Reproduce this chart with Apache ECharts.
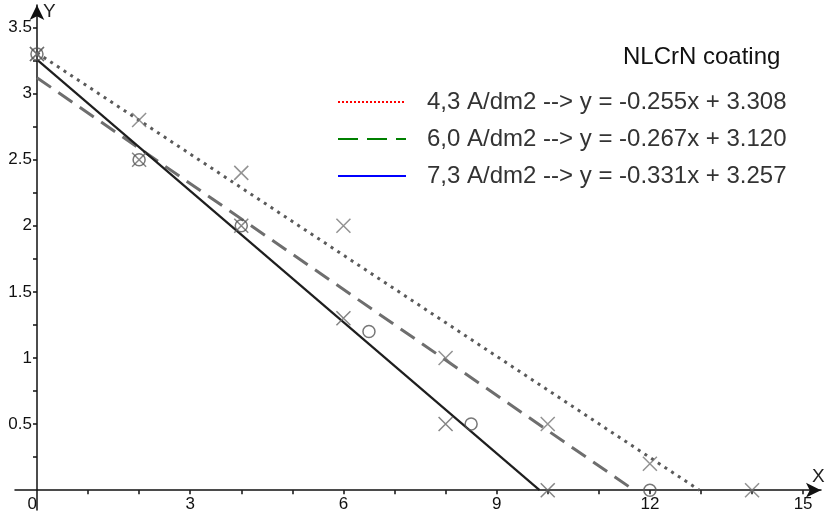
<!DOCTYPE html>
<html>
<head>
<meta charset="utf-8">
<script src="https://cdn.jsdelivr.net/npm/echarts@6/dist/echarts.min.js"></script>
<style>
  html, body { margin: 0; padding: 0; background: #fff; }
  #chart { width: 825px; height: 516px; }
</style>
</head>
<body>
<div id="chart"></div>
<script>
// measured points (crosses / circles)
const crossA = [[0, 3.3], [2, 2.8], [4, 2.4], [6, 2.0], [8, 1.0], [10, 0.5], [12, 0.2], [14, 0]];
const crossB = [[0, 3.3], [2, 2.5], [4, 2.0], [6, 1.3], [8, 0.5], [10, 0]];
const circleC = [[0, 3.3], [2, 2.5], [4, 2.0], [6.5, 1.2], [8.5, 0.5], [12, 0]];
// fitted lines, start / end points
const fit43 = [[0, 3.308], [12.97, 0]];
const fit60 = [[0, 3.12], [11.69, 0]];
const fit73 = [[0, 3.257], [9.84, 0]];
const legendNames = [
  '4,3 A/dm2 --> y = -0.255x + 3.308',
  '6,0 A/dm2 --> y = -0.267x + 3.120',
  '7,3 A/dm2 --> y = -0.331x + 3.257'
];
const xTicks = [1, 2, 3, 4, 5, 6, 7, 8, 9, 10, 11, 12, 13, 14, 15];
const xLabels = [0, 3, 6, 9, 12, 15];
const yTicks = [0.25, 0.5, 0.75, 1, 1.25, 1.5, 1.75, 2, 2.25, 2.5, 2.75, 3, 3.25, 3.5];
const yLabels = [0.5, 1, 1.5, 2, 2.5, 3, 3.5];

const font = 'Liberation Sans, Arial, sans-serif';
const crossPath = 'path://M0,0L10,10M10,0L0,10';

let chart = echarts.init(document.getElementById('chart'));

function scatter(data, symbol, size, color) {
  return {
    type: 'scatter',
    data: data,
    symbol: symbol,
    symbolSize: size,
    z: 5,
    itemStyle: { color: 'transparent', borderColor: color, borderWidth: 1.5 },
    emphasis: { disabled: true }
  };
}

function fitLine(data, color, width, type) {
  return {
    type: 'line',
    data: data,
    showSymbol: false,
    symbol: 'none',
    z: 3,
    lineStyle: { color: color, width: width, type: type },
    emphasis: { disabled: true }
  };
}

// only used for the legend
function legendLine(name, color, type) {
  return {
    name: name,
    type: 'line',
    data: [],
    symbol: 'none',
    symbolSize: 0,
    color: color,
    lineStyle: { color: color, width: 2.8, type: type }
  };
}

let option = {
  backgroundColor: '#fff',
  animation: false,
  textStyle: { fontFamily: font },
  title: {
    text: 'NLCrN coating',
    left: 618,
    top: 40,
    textStyle: { fontFamily: font, fontSize: 24, fontWeight: 'normal', color: '#111' }
  },
  legend: {
    data: legendNames,
    orient: 'vertical',
    left: 332,
    top: 85,
    itemWidth: 68,
    itemHeight: 14,
    itemGap: 13,
    selectedMode: false,
    itemStyle: { opacity: 0 },
    textStyle: { fontFamily: font, fontSize: 24, color: '#333', padding: [0, 0, 0, 16] }
  },
  grid: { left: 15, right: 4, top: 5, bottom: 6, outerBoundsMode: 'none' },
  xAxis: {
    type: 'value',
    min: -0.43,
    max: 15.35,
    splitLine: { show: false },
    axisLine: {
      onZero: true,
      symbol: ['none', 'arrow'],
      symbolSize: [11, 15],
      lineStyle: { color: '#111', width: 1.5 }
    },
    axisTick: { customValues: xTicks, length: 4, lineStyle: { color: '#111', width: 1.5 } },
    axisLabel: {
      customValues: xLabels,
      color: '#111',
      fontSize: 17,
      fontFamily: font,
      margin: -14,
      formatter: v => (v === 0 ? '0  ' : String(v))
    }
  },
  yAxis: {
    type: 'value',
    min: -0.15,
    max: 3.67,
    splitLine: { show: false },
    axisLine: {
      onZero: true,
      symbol: ['none', 'arrow'],
      symbolSize: [11, 15],
      lineStyle: { color: '#111', width: 1.5 }
    },
    axisTick: { customValues: yTicks, length: 4, lineStyle: { color: '#111', width: 1.5 } },
    axisLabel: {
      customValues: yLabels,
      color: '#111',
      fontSize: 17,
      fontFamily: font,
      margin: -17
    }
  },
  graphic: [
    { type: 'text', left: 43, top: 2, style: { text: 'Y', fontSize: 19, fontFamily: font, fill: '#222' } },
    { type: 'text', left: 812, top: 467, style: { text: 'X', fontSize: 19, fontFamily: font, fill: '#222' } }
  ],
  series: [
    fitLine(fit43, '#5a5a5a', 3, [3, 5]),
    fitLine(fit60, '#6e6e6e', 3, [17, 9]),
    fitLine(fit73, '#1e1e1e', 2.2, 'solid'),
    scatter(crossA, crossPath, 14, '#777'),
    scatter(crossB, crossPath, 14, '#666'),
    scatter(circleC, 'circle', 12, '#555'),
    legendLine(legendNames[0], '#ff0000', [2, 2]),
    legendLine(legendNames[1], '#008000', [20, 9]),
    legendLine(legendNames[2], '#0000ff', 'solid')
  ]
};

chart.setOption(option);
</script>
</body>
</html>
